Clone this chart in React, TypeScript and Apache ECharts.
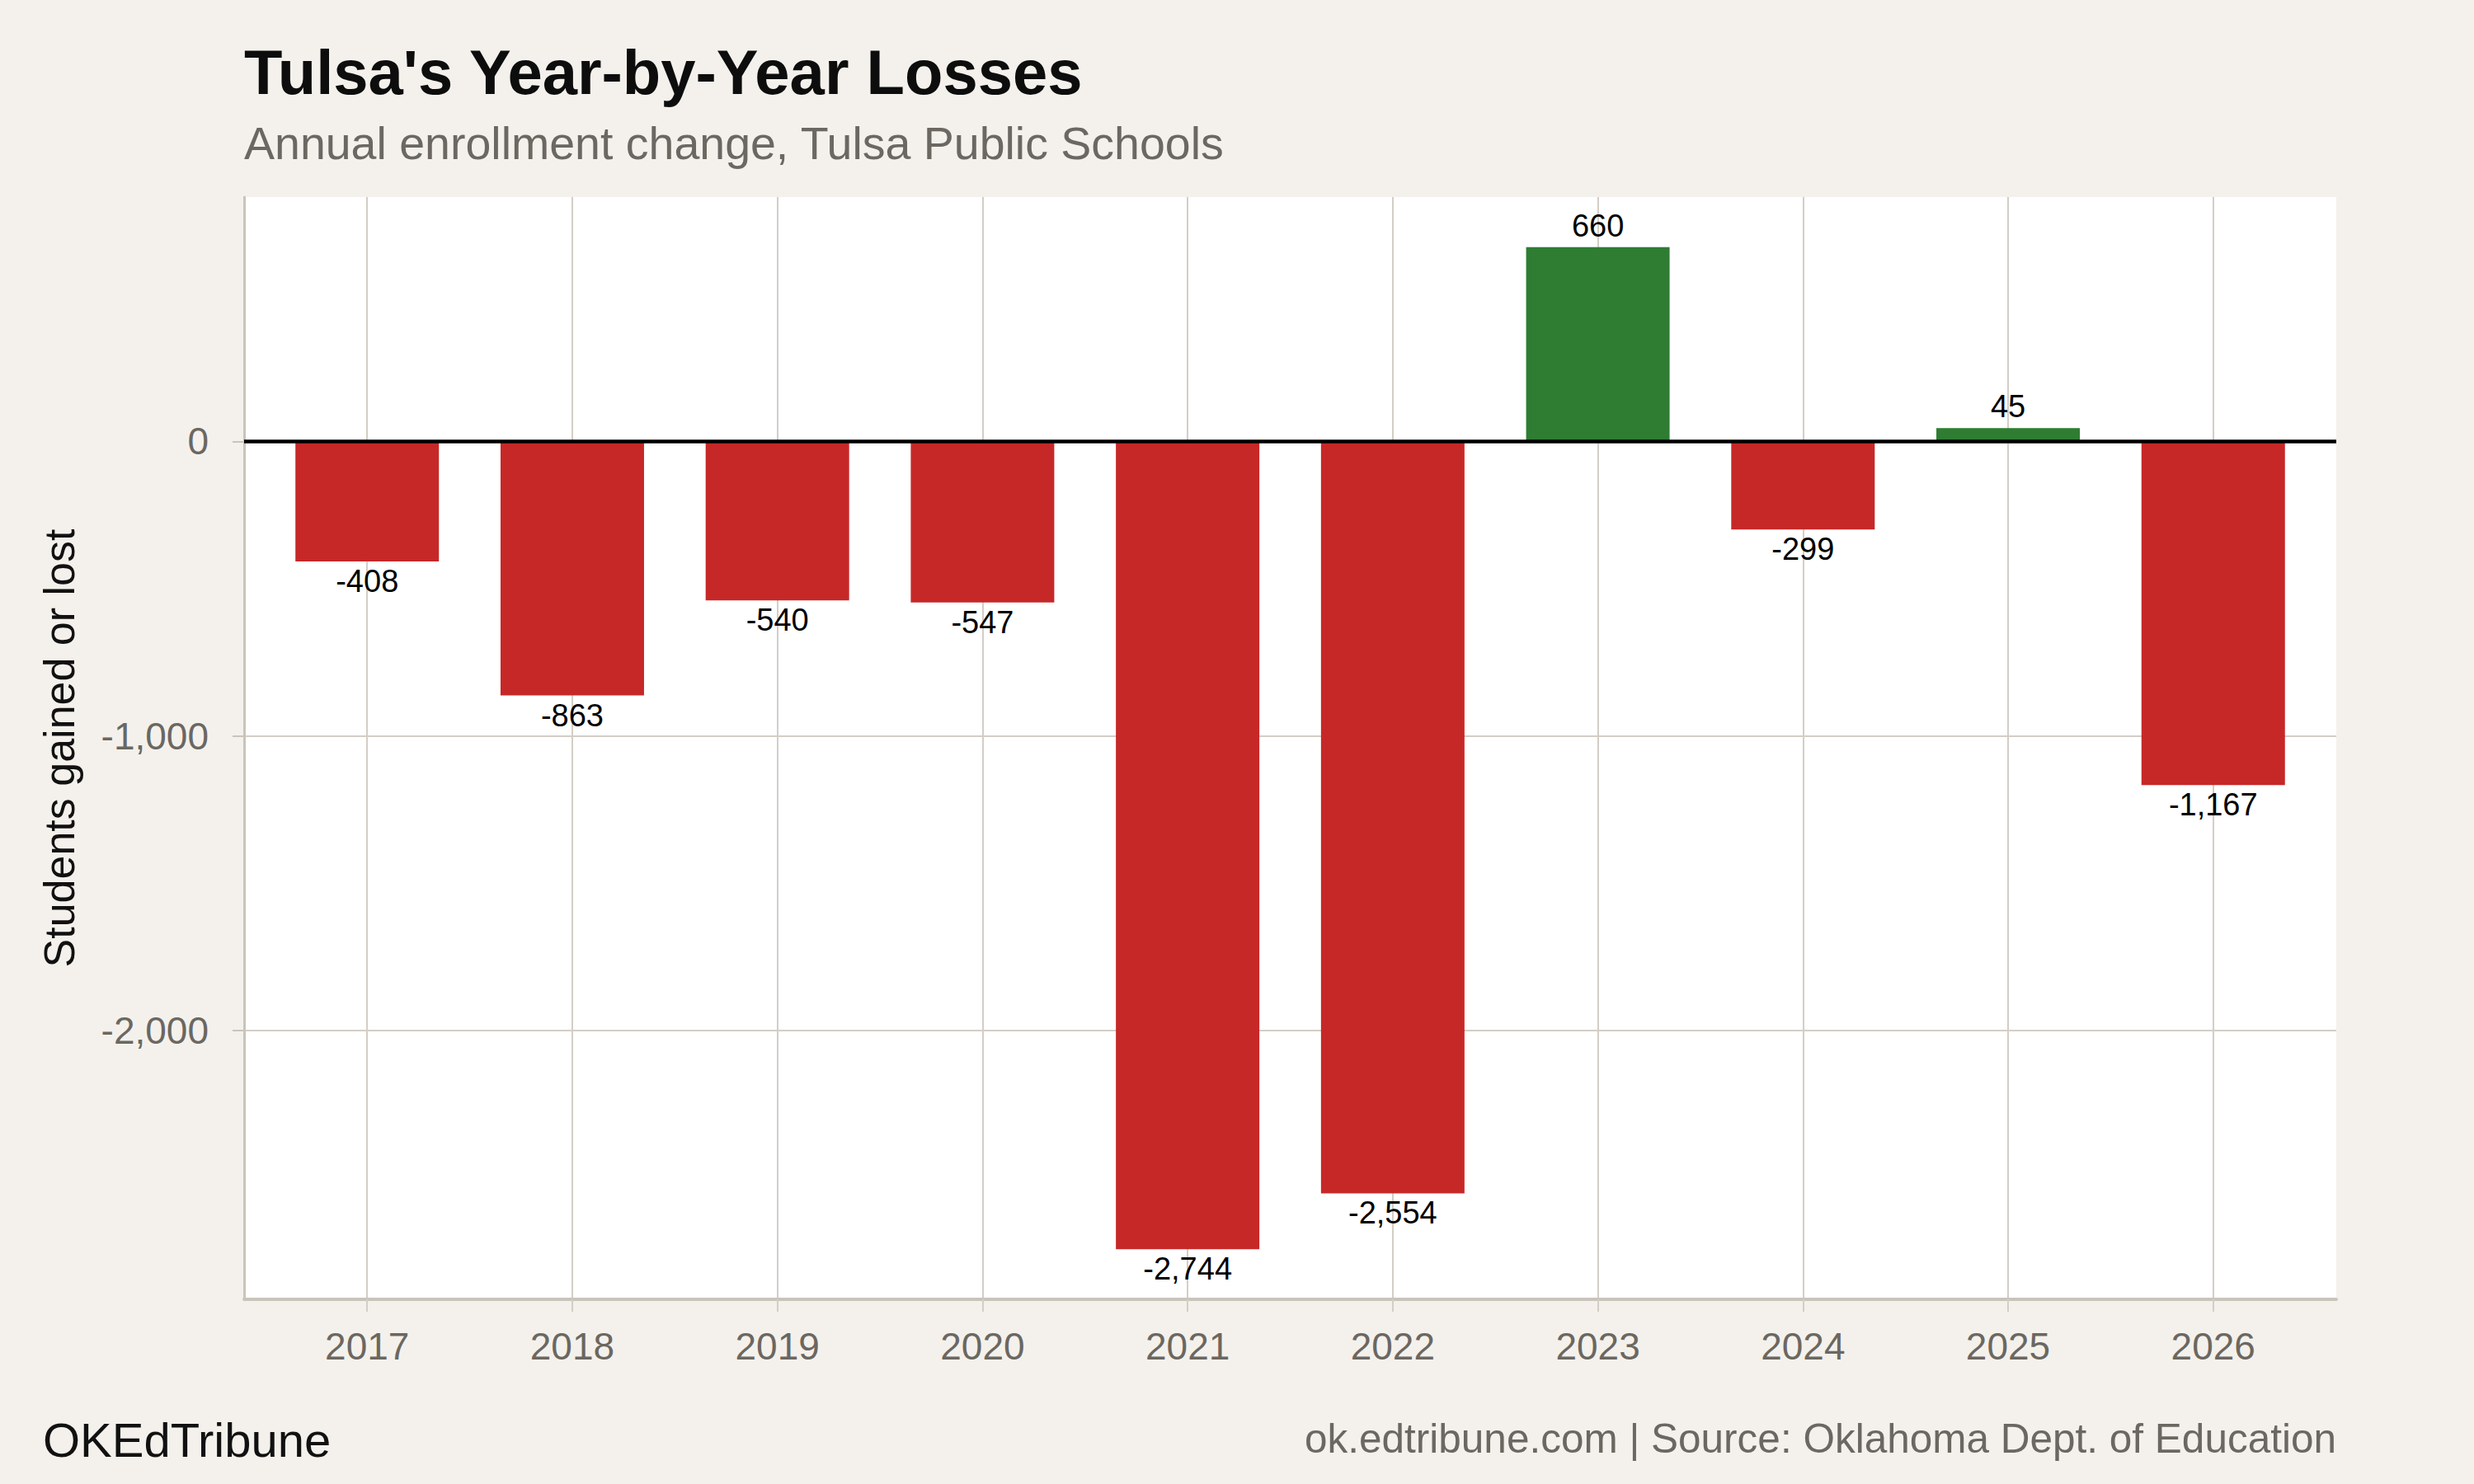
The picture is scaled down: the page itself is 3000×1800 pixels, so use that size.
import * as echarts from 'echarts';
import { useEffect, useRef } from 'react';

// Annual enrollment change, Tulsa Public Schools
const years = [2017, 2018, 2019, 2020, 2021, 2022, 2023, 2024, 2025, 2026];
const changes = [-408, -863, -540, -547, -2744, -2554, 660, -299, 45, -1167];
const yTicks = [-2000, -1000, 0];

const titleText = "Tulsa's Year-by-Year Losses";
const subtitleText = 'Annual enrollment change, Tulsa Public Schools';
const yAxisName = 'Students gained or lost';
const brandText = 'OKEdTribune';
const sourceText = 'ok.edtribune.com | Source: Oklahoma Dept. of Education';

const FONT = '"Liberation Sans", Arial, Helvetica, sans-serif';
const BG = '#f4f1ec';
const GRAY = '#6b6761';
const GRID = '#d3cec6';
const AXIS = '#c9c4bb';
const RED = '#c62828';
const GREEN = '#2e7d32';

const fmt = (v: number) => v.toLocaleString('en-US');

// ggplot-style 5% expansion of the value range
const lo = Math.min(...changes);
const hi = Math.max(...changes);
const pad = (hi - lo) * 0.05;

export default function App() {
  const ref = useRef<HTMLDivElement>(null);

  useEffect(() => {
    document.body.style.margin = '0';
    const chart = echarts.init(ref.current!, null, { renderer: 'svg' });
    chart.setOption({
      animation: false,
      backgroundColor: BG,
      textStyle: { fontFamily: FONT },
      title: [
        {
          text: titleText,
          left: 296,
          top: 49,
          padding: 0,
          textStyle: { fontFamily: FONT, fontSize: 76, fontWeight: 'bold', color: '#0d0d0d' },
        },
        {
          text: subtitleText,
          left: 296,
          top: 146,
          padding: 0,
          textStyle: { fontFamily: FONT, fontSize: 55.5, fontWeight: 'normal', color: GRAY },
        },
        {
          text: brandText,
          left: 52,
          top: 1717,
          padding: 0,
          textStyle: { fontFamily: FONT, fontSize: 58, fontWeight: 'normal', color: '#111111' },
        },
        {
          text: sourceText,
          right: 167,
          top: 1719,
          padding: 0,
          textStyle: { fontFamily: FONT, fontSize: 49.5, fontWeight: 'normal', color: GRAY },
        },
      ],
      grid: {
        left: 296,
        right: 167,
        top: 239,
        bottom: 224,
        show: true,
        backgroundColor: '#ffffff',
        borderWidth: 0,
        outerBoundsMode: 'none',
      },
      xAxis: {
        type: 'value',
        min: years[0] - 0.6,
        max: years[years.length - 1] + 0.6,
        axisLine: { show: true, onZero: false, lineStyle: { color: AXIS, width: 4 } },
        axisTick: { show: true, customValues: years, length: 15, lineStyle: { color: GRID, width: 2 } },
        axisLabel: {
          customValues: years,
          formatter: (v: number) => String(v),
          fontFamily: FONT,
          fontSize: 46,
          color: GRAY,
          margin: 34,
        },
        splitLine: { show: true, lineStyle: { color: GRID, width: 2 } },
      },
      yAxis: {
        type: 'value',
        min: lo - pad,
        max: hi + pad,
        name: yAxisName,
        nameLocation: 'middle',
        nameGap: 198,
        nameTextStyle: { fontFamily: FONT, fontSize: 52, color: '#111111' },
        axisLine: { show: true, onZero: false, lineStyle: { color: AXIS, width: 3 } },
        axisTick: { show: true, customValues: yTicks, length: 14, lineStyle: { color: AXIS, width: 2 } },
        axisLabel: {
          customValues: yTicks,
          formatter: (v: number) => fmt(v),
          fontFamily: FONT,
          fontSize: 46,
          color: GRAY,
          margin: 43,
        },
        splitLine: { show: true, lineStyle: { color: GRID, width: 2 } },
      },
      series: [
        {
          type: 'bar',
          barWidth: 174,
          data: years.map((y, i) => ({
            value: [y, changes[i]],
            itemStyle: { color: changes[i] >= 0 ? GREEN : RED },
            label: { position: changes[i] >= 0 ? 'top' : 'bottom', distance: changes[i] >= 0 ? 7 : 5 },
          })),
          label: {
            show: true,
            formatter: (p: { value: number[] }) => fmt(p.value[1]),
            fontFamily: FONT,
            fontSize: 38,
            color: '#000000',
          },
          markLine: {
            silent: true,
            symbol: 'none',
            label: { show: false },
            lineStyle: { color: '#000000', width: 4.5, type: 'solid' },
            data: [{ yAxis: 0 }],
          },
        },
      ],
    });
    return () => chart.dispose();
  }, []);

  return <div ref={ref} style={{ width: 3000, height: 1800 }} />;
}
